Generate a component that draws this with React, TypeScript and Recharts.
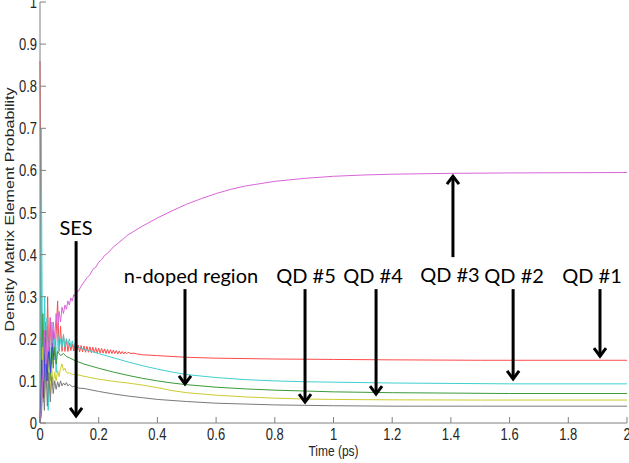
import React from 'react';
import { LineChart, Line, XAxis, YAxis, ReferenceLine } from 'recharts';

// axis ticks
const xTicks = [0, 0.2, 0.4, 0.6, 0.8, 1, 1.2, 1.4, 1.6, 1.8, 2];
const yTicks = [0, 0.1, 0.2, 0.3, 0.4, 0.5, 0.6, 0.7, 0.8, 0.9, 1];

// QD #1 (red)
const redTime = [
  0, 0.003, 0.006, 0.01, 0.014, 0.018, 0.022, 0.026, 0.03, 0.035, 0.04, 0.045, 0.05, 0.055, 0.06, 0.065,
  0.07, 0.075, 0.08, 0.085, 0.09, 0.095, 0.1, 0.105, 0.11, 0.115, 0.12, 0.125, 0.13, 0.135, 0.14, 0.145,
  0.15, 0.155, 0.16, 0.165, 0.17, 0.175, 0.18, 0.185, 0.19, 0.195, 0.2, 0.205, 0.21, 0.215, 0.22, 0.225,
  0.23, 0.235, 0.24, 0.245, 0.25, 0.255, 0.26, 0.265, 0.27, 0.275, 0.28, 0.285, 0.29, 0.295, 0.3, 0.31,
  0.32, 0.33, 0.34, 0.35, 0.4, 0.5, 0.6, 0.8, 1.0, 1.2, 1.5, 2.0,
];
const redValue = [
  0.86, 0.45, 0.08, 0.22, 0.1, 0.24, 0.14, 0.3, 0.15, 0.25, 0.14, 0.22, 0.16, 0.21, 0.29, 0.17,
  0.23, 0.17, 0.21, 0.17, 0.2, 0.17, 0.19, 0.172, 0.188, 0.171, 0.186, 0.17, 0.185, 0.169, 0.184, 0.169,
  0.183, 0.168, 0.182, 0.168, 0.181, 0.167, 0.18, 0.167, 0.179, 0.166, 0.178, 0.166, 0.177, 0.166, 0.176, 0.165,
  0.175, 0.165, 0.174, 0.165, 0.173, 0.165, 0.172, 0.164, 0.171, 0.164, 0.17, 0.164, 0.169, 0.164, 0.168, 0.165,
  0.166, 0.164, 0.163, 0.162, 0.16, 0.156, 0.154, 0.152, 0.151, 0.15, 0.149, 0.149,
];

// QD #2 (cyan)
const cyanTime = [
  0, 0.004, 0.008, 0.012, 0.016, 0.02, 0.024, 0.028, 0.032, 0.036, 0.04, 0.045, 0.05, 0.055, 0.06, 0.065,
  0.07, 0.075, 0.08, 0.085, 0.09, 0.095, 0.1, 0.105, 0.11, 0.115, 0.12, 0.13, 0.14, 0.15, 0.2, 0.25,
  0.3, 0.35, 0.4, 0.45, 0.5, 0.6, 0.7, 0.8, 0.9, 1.0, 1.2, 1.4, 1.6, 2.0,
];
const cyanValue = [
  0, 0.7, 0.2, 0.05, 0.3, 0.12, 0.25, 0.03, 0.22, 0.1, 0.24, 0.15, 0.21, 0.12, 0.22, 0.17,
  0.2, 0.18, 0.21, 0.18, 0.2, 0.185, 0.2, 0.18, 0.195, 0.178, 0.19, 0.18, 0.178, 0.175, 0.165, 0.155,
  0.145, 0.136, 0.128, 0.121, 0.115, 0.108, 0.103, 0.1, 0.098, 0.097, 0.095, 0.094, 0.093, 0.093,
];

// QD #3 (magenta)
const magentaTime = [
  0, 0.005, 0.01, 0.015, 0.02, 0.025, 0.03, 0.035, 0.04, 0.045, 0.05, 0.055, 0.06, 0.065, 0.07, 0.075,
  0.08, 0.085, 0.09, 0.095, 0.1, 0.105, 0.11, 0.115, 0.12, 0.125, 0.13, 0.14, 0.15, 0.16, 0.17, 0.18,
  0.19, 0.2, 0.21, 0.22, 0.23, 0.25, 0.28, 0.3, 0.35, 0.4, 0.45, 0.5, 0.55, 0.6, 0.65, 0.7,
  0.8, 0.9, 1.0, 1.1, 1.2, 1.4, 1.6, 2.0,
];
const magentaValue = [
  0, 0.04, 0.12, 0.22, 0.14, 0.23, 0.17, 0.25, 0.18, 0.24, 0.2, 0.26, 0.22, 0.265, 0.24, 0.275,
  0.26, 0.28, 0.27, 0.29, 0.28, 0.297, 0.29, 0.305, 0.3, 0.315, 0.312, 0.325, 0.335, 0.345, 0.352, 0.365,
  0.37, 0.382, 0.388, 0.398, 0.403, 0.418, 0.435, 0.447, 0.468, 0.487, 0.504, 0.52, 0.533, 0.545, 0.555, 0.563,
  0.574, 0.581, 0.586, 0.589, 0.591, 0.593, 0.594, 0.595,
];

// QD #4 (green)
const greenTime = [
  0, 0.005, 0.01, 0.015, 0.02, 0.025, 0.03, 0.035, 0.04, 0.045, 0.05, 0.055, 0.06, 0.07, 0.08, 0.09,
  0.1, 0.12, 0.15, 0.2, 0.25, 0.3, 0.35, 0.4, 0.45, 0.5, 0.6, 0.7, 0.8, 0.9, 1.0, 1.2,
  1.4, 1.6, 2.0,
];
const greenValue = [
  0, 0.1, 0.26, 0.08, 0.22, 0.12, 0.2, 0.1, 0.19, 0.13, 0.18, 0.14, 0.17, 0.16, 0.165, 0.158,
  0.155, 0.148, 0.14, 0.13, 0.121, 0.113, 0.106, 0.1, 0.095, 0.091, 0.085, 0.081, 0.078, 0.076, 0.074, 0.072,
  0.071, 0.07, 0.07,
];

// QD #5 (yellow)
const yellowTime = [
  0, 0.005, 0.01, 0.015, 0.02, 0.025, 0.03, 0.035, 0.04, 0.045, 0.05, 0.055, 0.06, 0.065, 0.07, 0.075,
  0.08, 0.085, 0.09, 0.095, 0.1, 0.11, 0.12, 0.15, 0.2, 0.25, 0.3, 0.35, 0.4, 0.45, 0.5, 0.6,
  0.7, 0.8, 0.9, 1.0, 1.2, 1.5, 2.0,
];
const yellowValue = [
  0, 0.05, 0.18, 0.06, 0.2, 0.08, 0.16, 0.07, 0.13, 0.09, 0.12, 0.1, 0.125, 0.11, 0.13, 0.14,
  0.125, 0.13, 0.12, 0.118, 0.12, 0.115, 0.116, 0.111, 0.104, 0.099, 0.095, 0.09, 0.084, 0.077, 0.072, 0.066,
  0.062, 0.059, 0.057, 0.056, 0.055, 0.0545, 0.0545,
];

// n-doped region (grey)
const greyTime = [
  0, 0.005, 0.01, 0.015, 0.02, 0.025, 0.03, 0.035, 0.04, 0.045, 0.05, 0.055, 0.06, 0.065, 0.07, 0.075,
  0.08, 0.085, 0.09, 0.095, 0.1, 0.11, 0.12, 0.13, 0.15, 0.2, 0.25, 0.3, 0.35, 0.4, 0.5, 0.6,
  0.7, 0.8, 0.9, 1.0, 1.2, 1.5, 2.0,
];
const greyValue = [
  0, 0.02, 0.1, 0.03, 0.14, 0.04, 0.12, 0.05, 0.11, 0.07, 0.1, 0.08, 0.098, 0.085, 0.1, 0.088,
  0.095, 0.09, 0.096, 0.088, 0.092, 0.086, 0.088, 0.083, 0.082, 0.075, 0.069, 0.064, 0.06, 0.056, 0.051, 0.047,
  0.045, 0.043, 0.042, 0.041, 0.04, 0.04, 0.04,
];

// SES (blue, only early transient)
const blueTime = [0, 0.006, 0.012, 0.018, 0.024, 0.03, 0.036, 0.042, 0.048];
const blueValue = [0, 0.15, 0.06, 0.2, 0.1, 0.18, 0.12, 0.19, 0.15];

// annotations: label, time, arrow start, arrow end
const arrowLabels = ['SES', 'n-doped region', 'QD #5', 'QD #4', 'QD #3', 'QD #2', 'QD #1'];
const arrowTime = [0.123, 0.494, 0.903, 1.145, 1.407, 1.612, 1.908];
const arrowFrom = [0.432, 0.318, 0.318, 0.318, 0.394, 0.318, 0.318];
const arrowTo = [0.012, 0.088, 0.045, 0.064, 0.591, 0.1, 0.154];

const LABEL_DX = [0, 6, 1, -3, -3, 1, -8];

const toPoints = (t: number[], v: number[]) => t.map((x, i) => ({ t: x, v: v[i] }));

const series = [
  { name: 'red', data: toPoints(redTime, redValue), color: '#ff4a4a' },
  { name: 'cyan', data: toPoints(cyanTime, cyanValue), color: '#3fd0d0' },
  { name: 'green', data: toPoints(greenTime, greenValue), color: '#3a9a3a' },
  { name: 'yellow', data: toPoints(yellowTime, yellowValue), color: '#cccc30' },
  { name: 'grey', data: toPoints(greyTime, greyValue), color: '#7a7a7a' },
  { name: 'blue', data: toPoints(blueTime, blueValue), color: '#4040e0' },
  { name: 'magenta', data: toPoints(magentaTime, magentaValue), color: '#d865d8' },
];

const AXIS = '#808080';
const TICK_FONT = "'Liberation Sans', Arial, sans-serif";
const TEXT = '#262626';

function BottomTick({ x, y, payload }: any) {
  return (
    <g>
      <line x1={x} y1={y} x2={x} y2={y - 6} stroke={AXIS} />
      <text
        transform={`translate(${x},${y + 17}) scale(1,1.25)`}
        textAnchor="middle"
        fontFamily={TICK_FONT}
        fontSize={13}
        fill={TEXT}
      >
        {String(payload.value)}
      </text>
    </g>
  );
}

function LeftTick({ x, y, payload }: any) {
  return (
    <g>
      <line x1={x} y1={y} x2={x + 6} y2={y} stroke={AXIS} />
      <text
        transform={`translate(${x - 3},${y + 6}) scale(1,1.25)`}
        textAnchor="end"
        fontFamily={TICK_FONT}
        fontSize={13}
        fill={TEXT}
      >
        {String(payload.value)}
      </text>
    </g>
  );
}

function TopTick({ x, y }: any) {
  return <line x1={x} y1={y} x2={x} y2={y + 6} stroke={AXIS} />;
}

function RightTick({ x, y }: any) {
  return <line x1={x} y1={y} x2={x - 6} y2={y} stroke={AXIS} />;
}

function makeArrow(label: string, dx: number) {
  return (p: any) => {
    const { x1, y1, x2, y2 } = p;
    const dir = y2 > y1 ? 1 : -1;
    const textY = dir > 0 ? y1 - 6 : y1 + 25;
    return (
      <g>
        <line x1={x1} y1={y1} x2={x2} y2={y2 - dir * 2} stroke="#000" strokeWidth={3} />
        <polyline
          points={`${x2 - 6},${y2 - dir * 10} ${x2},${y2 - dir * 2} ${x2 + 6},${y2 - dir * 10}`}
          fill="none"
          stroke="#000"
          strokeWidth={3}
        />
        <text x={x1 + dx} y={textY} textAnchor="middle" fontFamily="Lato, 'Open Sans', sans-serif" fontSize={20} fill="#000">
          {label}
        </text>
      </g>
    );
  };
}

export default function App() {
  return (
    <div style={{ position: 'absolute', left: 0, top: 0, width: 629, height: 463, background: '#fff' }}>
      <LineChart width={629} height={463} margin={{ top: 2, right: 2, left: 0, bottom: 0 }}>
        <XAxis
          dataKey="t"
          type="number"
          domain={[0, 2]}
          ticks={xTicks}
          interval={0}
          height={40}
          tickSize={0}
          tickMargin={0}
          tickLine={false}
          axisLine={{ stroke: AXIS }}
          tick={<BottomTick />}
          label={{
            content: ({ viewBox }: any) => (
              <text
                transform={`translate(${viewBox.x + viewBox.width / 2},${viewBox.y + 33}) scale(1,1.2)`}
                textAnchor="middle"
                fontFamily={TICK_FONT}
                fontSize={12}
                fill={TEXT}
              >
                Time (ps)
              </text>
            ),
          }}
        />
        <XAxis
          xAxisId="top"
          orientation="top"
          type="number"
          domain={[0, 2]}
          ticks={xTicks}
          interval={0}
          height={0}
          tickSize={0}
          tickMargin={0}
          tickLine={false}
          axisLine={{ stroke: AXIS }}
          tick={<TopTick />}
        />
        <YAxis
          type="number"
          domain={[0, 1]}
          ticks={yTicks}
          interval={0}
          width={40}
          tickSize={0}
          tickMargin={0}
          tickLine={false}
          axisLine={{ stroke: AXIS }}
          tick={<LeftTick />}
          label={{
            content: ({ viewBox }: any) => (
              <text
                transform={`translate(${viewBox.x + 14},${viewBox.y + viewBox.height / 2 - 3}) rotate(-90)`}
                textAnchor="middle"
                fontFamily={TICK_FONT}
                fontSize={13}
                textLength={244}
                lengthAdjust="spacingAndGlyphs"
                fill={TEXT}
              >
                Density Matrix Element Probability
              </text>
            ),
          }}
        />
        <YAxis
          yAxisId="right"
          orientation="right"
          type="number"
          domain={[0, 1]}
          ticks={yTicks}
          interval={0}
          width={0}
          tickSize={0}
          tickMargin={0}
          tickLine={false}
          axisLine={{ stroke: AXIS }}
          tick={<RightTick />}
        />
        {series.map((s) => (
          <Line
            key={s.name}
            data={s.data}
            dataKey="v"
            type="linear"
            stroke={s.color}
            strokeWidth={1}
            dot={false}
            activeDot={false}
            isAnimationActive={false}
          />
        ))}
        {arrowLabels.map((label, i) => (
          <ReferenceLine
            key={label}
            segment={[
              { x: arrowTime[i], y: arrowFrom[i] },
              { x: arrowTime[i], y: arrowTo[i] },
            ]}
            ifOverflow="visible"
            shape={makeArrow(label, LABEL_DX[i])}
          />
        ))}
      </LineChart>
    </div>
  );
}
